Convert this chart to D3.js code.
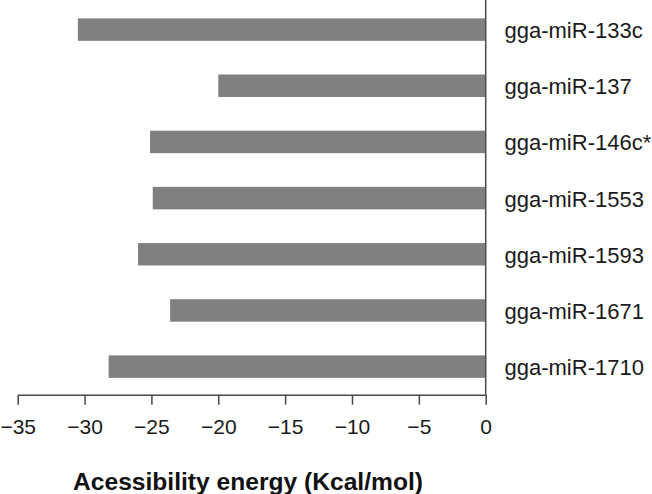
<!DOCTYPE html>
<html>
<head>
<meta charset="utf-8">
<script src="https://cdn.jsdelivr.net/npm/d3@7"></script>
<style>
html,body{margin:0;padding:0;background:#fff;}
svg{display:block;}
</style>
</head>
<body>
<svg id="chart" width="652" height="494"></svg>
<script>
const categories = ["gga-miR-133c","gga-miR-137","gga-miR-146c*","gga-miR-1553","gga-miR-1593","gga-miR-1671","gga-miR-1710"];
const values = [-30.5, -20.0, -25.1, -24.9, -26.0, -23.6, -28.2];
const tickValues = [-35, -30, -25, -20, -15, -10, -5, 0];
const axisTitle = "Acessibility energy (Kcal/mol)";

const svg = d3.select("#chart");
const font = "Liberation Sans, Arial, Helvetica, sans-serif";
const axisColor = "#4a4a4a";

const x = d3.scaleLinear().domain([-35, 0]).range([17.7, 485.7]);
const y = d3.scaleBand().domain(categories).range([1.5, 394.7]).paddingInner(0.6).paddingOuter(0.3);

// bars
svg.append("g").selectAll("rect").data(categories).join("rect")
  .attr("x", (d,i) => x(values[i]))
  .attr("y", d => y(d))
  .attr("width", (d,i) => x(0) - x(values[i]))
  .attr("height", y.bandwidth())
  .attr("fill", "#7f807f");

// vertical zero line
svg.append("line")
  .attr("x1", x(0)).attr("x2", x(0))
  .attr("y1", 0).attr("y2", 394.7)
  .attr("stroke", axisColor).attr("stroke-width", 1.5);

// bottom axis
const axis = d3.axisBottom(x).tickValues(tickValues).tickSize(10).tickPadding(8).tickSizeOuter(0);
const gx = svg.append("g").attr("transform", "translate(0,394.7)").call(axis);
gx.select(".domain").attr("stroke", axisColor).attr("stroke-width", 1.5);
gx.selectAll(".tick line").attr("stroke", axisColor).attr("stroke-width", 1.5);
gx.selectAll(".tick text")
  .attr("fill", "#1a1a1a")
  .attr("font-family", font)
  .attr("font-size", 21)
  .attr("dy", null)
  .attr("y", 39.5);

// category labels
svg.append("g").selectAll("text").data(categories).join("text")
  .attr("x", 504.5)
  .attr("y", d => y(d) + y.bandwidth()/2 + 8.5)
  .attr("font-family", font)
  .attr("font-size", 22)
  .attr("fill", "#1a1a1a")
  .text(d => d);

// axis title
svg.append("text")
  .attr("x", 248)
  .attr("y", 490)
  .attr("text-anchor", "middle")
  .attr("font-family", font)
  .attr("font-size", 24.6)
  .attr("font-weight", "bold")
  .attr("fill", "#111")
  .text(axisTitle);
</script>
</body>
</html>
